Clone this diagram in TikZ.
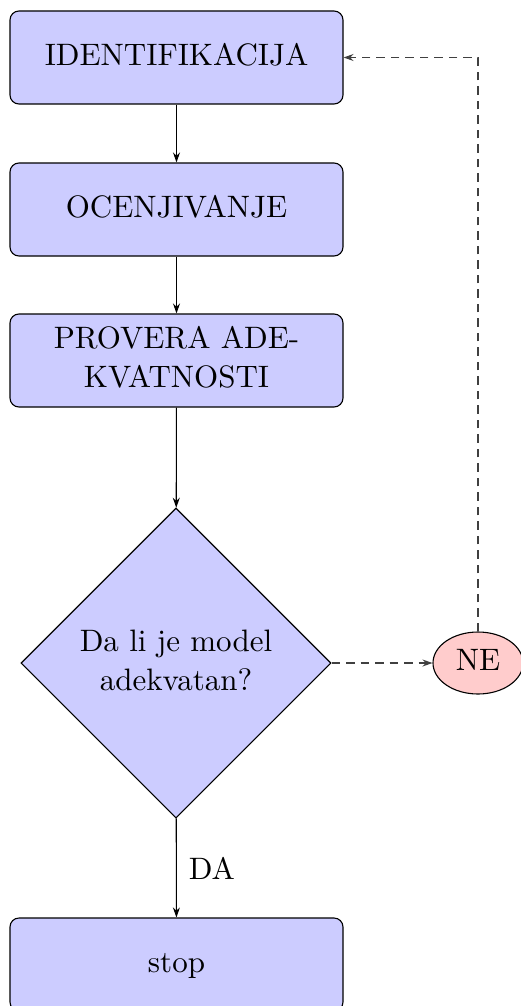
\documentclass[tikz,border=0pt]{standalone}
\usepackage{graphicx}
\usetikzlibrary{shapes.geometric,arrows.meta}
\newcommand\sctext[1]{\scalebox{3.1}{\fontsize{10}{12.5}\selectfont\begin{tabular}{@{}c@{}}#1\end{tabular}}}
\begin{document}
\begin{tikzpicture}[x=1pt,y=-1pt,
  box/.style={draw=black, fill=blue!20, rounded corners=9pt, minimum width=333pt, minimum height=93pt, inner sep=0pt, line width=1.1pt},
  dec/.style={draw=black, fill=blue!20, diamond, aspect=1, minimum width=310pt, minimum height=310pt, inner sep=0pt, line width=1.1pt},
  ne/.style={draw=black, fill=red!20, ellipse, minimum width=90pt, minimum height=62pt, inner sep=0pt, line width=1.1pt},
  arr/.style={-{Stealth[length=10pt,width=7pt]}, line width=1.1pt},
  dline/.style={arr, dash pattern=on 8.5pt off 6pt, draw=black!75}]
\useasboundingbox (0,0) rectangle (520,1006);
\node[box] (id) at (176.5,57.5) {\sctext{IDENTIFIKACIJA}};
\node[box] (oc) at (176.5,209.5) {\sctext{OCENJIVANJE}};
\node[box] (pr) at (176.5,360.5) {\sctext{PROVERA ADE-\\KVATNOSTI}};
\node[dec] (dm) at (176,663) {\sctext{Da li je model\\adekvatan?}};
\node[ne] (ne) at (478,663) {\sctext{NE}};
\node[box] (st) at (176.5,964.5) {\sctext{stop}};
\draw[arr] (id) -- (oc);
\draw[arr] (oc) -- (pr);
\draw[arr] (pr) -- (dm);
\draw[arr] (dm) -- node[anchor=west, inner sep=0pt, xshift=12pt, yshift=-4pt] (da) {\sctext{DA}} (st);
\draw[dline] (dm) -- (ne);
\draw[dline] (ne.north) |- (id.east);
\end{tikzpicture}
\end{document}
